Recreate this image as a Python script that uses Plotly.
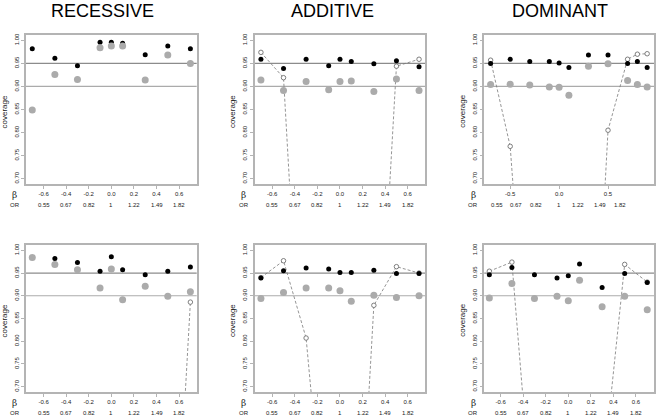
import plotly.graph_objects as go

# ---------------- data ----------------
beta = [-0.7, -0.5, -0.3, -0.1, 0.0, 0.1, 0.3, 0.5, 0.7]
beta_dom = [-0.7, -0.5, -0.3, -0.1, 0.0, 0.1, 0.3, 0.5, 0.7, 0.8, 0.9]

beta_ticks = [-0.6, -0.4, -0.2, 0.0, 0.2, 0.4, 0.6]
beta_ticks_dom = [-0.5, 0.0, 0.5]
or_labels = ["0.55", "0.67", "0.82", "1", "1.22", "1.49", "1.82"]
or_pos_dom = [-0.635, -0.444, -0.236, 0.0, 0.198, 0.413, 0.625]

titles = ["RECESSIVE", "ADDITIVE", "DOMINANT"]

# top row
rec_top_black = [0.982, 0.961, 0.945, 0.996, 0.996, 0.994, 0.969, 0.988, 0.982]
rec_top_gray = [0.849, 0.926, 0.915, 0.984, 0.988, 0.988, 0.914, 0.968, 0.950]
rec_top_open = [None] * 9

add_top_black = [0.959, 0.939, 0.959, 0.945, 0.959, 0.954, 0.949, 0.956, 0.943]
add_top_gray = [0.914, 0.891, 0.911, 0.893, 0.911, 0.912, 0.889, 0.916, 0.891]
add_top_open = [0.974, 0.919, 0.055, 0.0, 0.0, 0.0, 0.08, 0.944, 0.959]

dom_top_black = [0.950, 0.959, 0.954, 0.954, 0.951, 0.941, 0.968, 0.968, 0.950, 0.954, 0.941]
dom_top_gray = [0.904, 0.905, 0.903, 0.899, 0.898, 0.881, 0.944, 0.949, 0.913, 0.904, 0.899]
dom_top_open = [0.957, 0.770, 0.19, 0.0, 0.0, 0.0, 0.01, 0.805, 0.959, 0.970, 0.971]

# bottom row
rec_bot_black = [0.984, 0.982, 0.973, 0.954, 0.986, 0.957, 0.946, 0.954, 0.963]
rec_bot_gray = [0.984, 0.969, 0.957, 0.917, 0.959, 0.891, 0.921, 0.899, 0.909]
rec_bot_open = [0.0, 0.0, 0.0, 0.0, 0.0, 0.0, 0.0, 0.0, 0.886]

add_bot_black = [0.939, 0.955, 0.961, 0.959, 0.951, 0.951, 0.956, 0.949, 0.949]
add_bot_gray = [0.894, 0.907, 0.917, 0.917, 0.911, 0.888, 0.901, 0.896, 0.900]
add_bot_open = [0.940, 0.977, 0.807, 0.107, 0.0, 0.0, 0.879, 0.964, 0.950]

dom_bot_black = [0.946, 0.962, 0.946, 0.939, 0.944, 0.970, 0.918, 0.949, 0.929]
dom_bot_gray = [0.895, 0.927, 0.894, 0.899, 0.889, 0.934, 0.876, 0.899, 0.869]
dom_bot_open = [0.954, 0.974, 0.366, 0.0, 0.0, 0.0, 0.493, 0.969, 0.930]

ref_lines = [0.95, 0.90]
y_ticks = [0.70, 0.75, 0.80, 0.85, 0.90, 0.95, 1.00]

# ---------------- layout geometry ----------------
W, H = 656, 420
col_px = [(26, 197), (255, 426), (485, 655)]
row_px = [(33, 183), (244, 392)]

panels = [
    # (row, col, x, black, gray, open, xrange, xticks, or_positions)
    (0, 0, beta, rec_top_black, rec_top_gray, rec_top_open, [-0.756, 0.756], beta_ticks, beta_ticks),
    (0, 1, beta, add_top_black, add_top_gray, add_top_open, [-0.756, 0.756], beta_ticks, beta_ticks),
    (0, 2, beta_dom, dom_top_black, dom_top_gray, dom_top_open, [-0.765, 0.97], beta_ticks_dom, or_pos_dom),
    (1, 0, beta, rec_bot_black, rec_bot_gray, rec_bot_open, [-0.756, 0.756], beta_ticks, beta_ticks),
    (1, 1, beta, add_bot_black, add_bot_gray, add_bot_open, [-0.756, 0.756], beta_ticks, beta_ticks),
    (1, 2, beta, dom_bot_black, dom_bot_gray, dom_bot_open, [-0.745, 0.76], beta_ticks, beta_ticks),
]

FONT = "Liberation Sans, Arial, sans-serif"
FRAME = "#b4b4b4"
GRAY_PT = "#ababab"
TXT = "#222"

fig = go.Figure()
annotations = []
shapes = []

for i, (r, c, xs, blk, gry, opn, xr, xt, orp) in enumerate(panels):
    idx = i + 1
    xa = "x" if idx == 1 else f"x{idx}"
    ya = "y" if idx == 1 else f"y{idx}"
    x0p, x1p = col_px[c]
    y0p, y1p = row_px[r]
    xdom = [x0p / W, x1p / W]
    ydom = [1 - y1p / H, 1 - y0p / H]

    # open circles with dashed line
    fig.add_trace(go.Scatter(
        x=xs, y=opn, xaxis=xa, yaxis=ya, mode="lines+markers",
        line=dict(color="#7a7a7a", width=0.8, dash="3px,2px"),
        marker=dict(size=4.5, color="white", line=dict(color="#707070", width=0.9)),
        cliponaxis=True, showlegend=False, connectgaps=False))
    # black points
    fig.add_trace(go.Scatter(
        x=xs, y=blk, xaxis=xa, yaxis=ya, mode="markers",
        marker=dict(size=5, color="black"), showlegend=False))
    # gray points
    fig.add_trace(go.Scatter(
        x=xs, y=gry, xaxis=xa, yaxis=ya, mode="markers",
        marker=dict(size=7, color=GRAY_PT), showlegend=False))

    axx = dict(domain=xdom, range=xr, anchor=ya, tickmode="array", tickvals=xt,
               ticktext=[f"{v:.1f}" for v in xt], ticks="outside", ticklen=3,
               tickcolor=FRAME, tickwidth=1, showline=True, mirror=True,
               linecolor=FRAME, linewidth=1.5, showgrid=False, zeroline=False,
               tickfont=dict(size=6, family=FONT, color=TXT))
    axy = dict(domain=ydom, range=[0.688, 1.012], anchor=xa, tickmode="array",
               tickvals=y_ticks, ticktext=[f"{v:.2f}" for v in y_ticks],
               tickangle=-90, ticks="outside", ticklen=3, tickcolor=FRAME,
               tickwidth=1, showline=True, mirror=True, linecolor=FRAME,
               linewidth=1.5, showgrid=False, zeroline=False,
               tickfont=dict(size=6, family=FONT, color=TXT))
    fig.update_layout(**{("xaxis" if idx == 1 else f"xaxis{idx}"): axx,
                         ("yaxis" if idx == 1 else f"yaxis{idx}"): axy})

    # reference lines
    for v, col in zip(ref_lines, ["#8c8c8c", "#ababab"]):
        shapes.append(dict(type="line", xref=f"{xa} domain", yref=ya, x0=0, x1=1,
                           y0=v, y1=v, line=dict(color=col, width=1.2), layer="below"))

    or_y = 1 - (y1p + 21) / H
    # OR labels
    for p, lab in zip(orp, or_labels):
        annotations.append(dict(x=p, xref=xa, y=or_y, yref="paper",
                                text=lab, showarrow=False,
                                font=dict(size=6, family=FONT, color=TXT),
                                xanchor="center", yanchor="middle"))
    annotations.append(dict(x=(x0p - 11) / W, xref="paper", y=or_y,
                            yref="paper", text="OR", showarrow=False,
                            font=dict(size=6, family=FONT, color=TXT),
                            xanchor="center", yanchor="middle"))
    annotations.append(dict(x=(x0p - 11) / W, xref="paper", y=1 - (y1p + 11) / H,
                            yref="paper", text="β", showarrow=False,
                            font=dict(size=9, family="DejaVu Serif, serif", color=TXT),
                            xanchor="center", yanchor="middle"))
    annotations.append(dict(x=(x0p - 22) / W, xref="paper", y=1 - ((y0p + y1p) / 2 + 2) / H,
                            yref="paper", text="coverage", textangle=-90, showarrow=False,
                            font=dict(size=8, family=FONT, color=TXT),
                            xanchor="center", yanchor="middle"))

# titles
title_x = [103, 333, 561]
for t, tx in zip(titles, title_x):
    annotations.append(dict(x=tx / W, xref="paper", y=1 - 9 / H, yref="paper",
                            text=t, showarrow=False,
                            font=dict(size=18, family=FONT, color="black"),
                            xanchor="center", yanchor="middle"))

fig.update_layout(width=W, height=H, margin=dict(l=0, r=0, t=0, b=0),
                  paper_bgcolor="white", plot_bgcolor="white",
                  annotations=annotations, shapes=shapes, showlegend=False)

fig.write_html(
    "out.html",
    config={"displayModeBar": False},
    post_script="document.body.style.margin='0';document.body.style.padding='0';"
                "document.body.style.overflow='hidden';",
)
